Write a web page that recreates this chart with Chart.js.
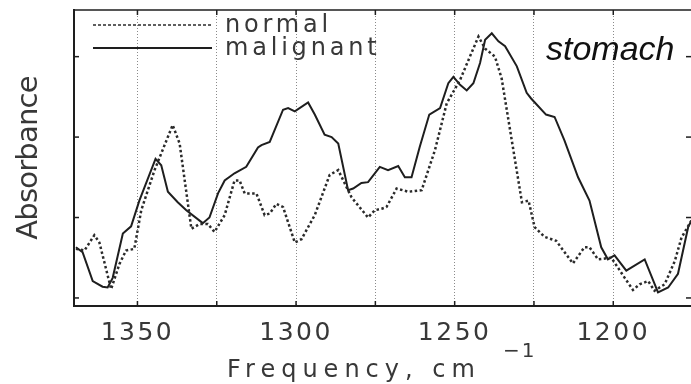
<!DOCTYPE html>
<html>
<head>
<meta charset="utf-8">
<script src="https://cdn.jsdelivr.net/npm/chart.js@4"></script>
<style>
  html, body { margin: 0; padding: 0; background: #fff; }
  canvas { display: block; }
</style>
</head>
<body>
<canvas id="chart" width="691" height="384"></canvas>
<script>
"use strict";

// absorbance spectra (arbitrary units), x in cm^-1
const normalFreq = [1369.4, 1366.7, 1363.6, 1362.0, 1358.3, 1355.7, 1353.6, 1351.0, 1348.8, 1344.6,
  1338.9, 1336.7, 1333.0, 1330.4, 1327.8, 1325.7, 1322.5, 1319.4, 1317.8, 1316.2,
  1312.5, 1309.9, 1308.3, 1306.2, 1304.1, 1300.4, 1298.3, 1294.1, 1289.4, 1286.7,
  1284.6, 1282.5, 1277.3, 1275.2, 1273.0, 1271.5, 1268.3, 1264.6, 1260.4, 1256.2,
  1252.5, 1248.3, 1245.2, 1242.5, 1240.4, 1237.3, 1235.2, 1232.0, 1228.8, 1226.7,
  1224.8, 1221.7, 1218.0, 1212.7, 1209.1, 1207.5, 1204.8, 1200.6, 1196.4, 1193.8,
  1191.7, 1189.0, 1187.0, 1183.8, 1180.6, 1178.5, 1175.4];
const normalAbs = [0.61, 0.59, 0.78, 0.69, 0.11, 0.42, 0.59, 0.61, 1.09, 1.59,
  2.15, 1.92, 0.86, 0.92, 0.92, 0.82, 1.03, 1.46, 1.46, 1.30,
  1.30, 1.03, 1.05, 1.17, 1.13, 0.69, 0.73, 1.03, 1.53, 1.59,
  1.42, 1.25, 1.00, 1.09, 1.11, 1.13, 1.36, 1.32, 1.34, 1.84,
  2.42, 2.71, 3.00, 3.25, 3.10, 3.00, 2.73, 1.96, 1.19, 1.21,
  0.88, 0.76, 0.71, 0.43, 0.63, 0.63, 0.48, 0.50, 0.25, 0.10,
  0.17, 0.21, 0.09, 0.17, 0.46, 0.75, 0.96];

const malignantFreq = [1369.4, 1367.3, 1364.1, 1361.0, 1359.4, 1357.8, 1354.6, 1352.0, 1349.4, 1344.3,
  1342.5, 1340.4, 1337.3, 1334.6, 1329.4, 1327.3, 1324.6, 1322.5, 1319.4, 1315.7,
  1312.0, 1310.9, 1308.3, 1304.1, 1302.5, 1300.4, 1296.2, 1294.1, 1291.0, 1288.8,
  1286.7, 1283.6, 1282.0, 1279.4, 1277.3, 1273.6, 1271.0, 1267.8, 1265.7, 1263.6,
  1261.0, 1258.0, 1254.6, 1252.0, 1250.4, 1248.3, 1246.2, 1244.1, 1242.0, 1240.4,
  1238.3, 1236.2, 1234.1, 1230.4, 1227.3, 1225.9, 1221.2, 1218.5, 1215.4, 1211.1,
  1207.5, 1203.8, 1201.7, 1199.6, 1195.9, 1190.1, 1185.9, 1182.7, 1179.6, 1176.4, 1175.4];
const malignantAbs = [0.63, 0.57, 0.21, 0.14, 0.13, 0.25, 0.80, 0.89, 1.21, 1.73,
  1.65, 1.32, 1.19, 1.09, 0.93, 1.00, 1.30, 1.46, 1.55, 1.63,
  1.87, 1.90, 1.94, 2.34, 2.36, 2.32, 2.43, 2.28, 2.03, 2.00,
  1.92, 1.34, 1.36, 1.43, 1.44, 1.63, 1.59, 1.64, 1.50, 1.50,
  1.88, 2.28, 2.36, 2.67, 2.75, 2.65, 2.58, 2.67, 2.92, 3.21,
  3.29, 3.19, 3.13, 2.88, 2.55, 2.48, 2.28, 2.25, 1.96, 1.50,
  1.21, 0.63, 0.48, 0.53, 0.34, 0.48, 0.07, 0.13, 0.30, 0.88, 0.96];

const xRange = [1175.5, 1370];
const yRange = [-0.1, 3.58];
const labelledTicks = [1350, 1300, 1250, 1200];

const seriesNames = ["normal", "malignant"];
const INK = "#1e1e1e";
const TEXT = "#383838";

function pts(xs, ys) { return xs.map((x, i) => ({ x, y: ys[i] })); }

function line(ctx, x1, y1, x2, y2) {
  ctx.beginPath(); ctx.moveTo(x1, y1); ctx.lineTo(x2, y2); ctx.stroke();
}

const decor = {
  id: "decor",
  beforeDraw(chart) { chart.ctx.letterSpacing = "2.5px"; },
  afterDraw(chart) {
    const { ctx, chartArea: a, scales: { x, y } } = chart;
    ctx.save();
    ctx.letterSpacing = "0px";
    ctx.strokeStyle = INK;

    // top frame line
    ctx.lineWidth = 1.5;
    line(ctx, a.left, a.top, a.right, a.top);

    // inward tick marks
    ctx.lineWidth = 1.5;
    x.ticks.forEach((t) => {
      const px = x.getPixelForValue(t.value);
      line(ctx, px, a.bottom, px, a.bottom - 5);
      line(ctx, px, a.top, px, a.top + 5);
    });
    y.ticks.forEach((t) => {
      const py = y.getPixelForValue(t.value);
      line(ctx, a.left, py, a.left + 5, py);
      line(ctx, a.right, py, a.right - 5, py);
    });

    // legend
    const ds = chart.data.datasets;
    const rows = [25, 48];
    ds.forEach((d, i) => {
      ctx.save();
      ctx.strokeStyle = d.borderColor;
      ctx.lineWidth = i === 0 ? 1.5 : 2;
      ctx.setLineDash(i === 0 ? [3, 2] : []);
      line(ctx, 93, rows[i], 212, rows[i]);
      ctx.restore();
      ctx.fillStyle = TEXT;
      ctx.font = "24px 'DejaVu Sans'";
      ctx.letterSpacing = "3.8px";
      ctx.textBaseline = "alphabetic";
      ctx.fillText(d.label, 225, rows[i] + 7);
    });

    // y title
    ctx.save();
    ctx.translate(37, 158);
    ctx.rotate(-Math.PI / 2);
    ctx.font = "29px 'DejaVu Sans'";
    ctx.letterSpacing = "-0.8px";
    ctx.textAlign = "center";
    ctx.fillStyle = TEXT;
    ctx.fillText("Absorbance", 0, 0);
    ctx.restore();

    // x title with superscript
    ctx.fillStyle = TEXT;
    ctx.textAlign = "left";
    ctx.font = "24px 'DejaVu Sans'";
    ctx.letterSpacing = "6px";
    ctx.fillText("Frequency, cm", 227, 377);
    ctx.font = "20px 'DejaVu Sans'";
    ctx.letterSpacing = "2px";
    ctx.fillText("\u22121", 503, 357);

    // panel label
    ctx.font = "italic 34px 'Liberation Sans'";
    ctx.letterSpacing = "0px";
    ctx.fillStyle = "#111";
    ctx.fillText("stomach", 546, 60);

    ctx.restore();
  }
};

new Chart(document.getElementById("chart"), {
  type: "line",
  data: {
    datasets: [
      {
        label: seriesNames[0], data: pts(normalFreq, normalAbs),
        borderColor: "#2a2a2a", borderWidth: 2.5, borderDash: [2.5, 2.5],
        pointRadius: 0, tension: 0, fill: false,
      },
      {
        label: seriesNames[1], data: pts(malignantFreq, malignantAbs),
        borderColor: INK, borderWidth: 2, borderDash: [],
        pointRadius: 0, tension: 0, fill: false,
      },
    ],
  },
  options: {
    responsive: false,
    animation: false,
    layout: { padding: { left: 74, top: 10, right: 0, bottom: 0 } },
    plugins: { legend: { display: false }, tooltip: { enabled: false } },
    scales: {
      x: {
        type: "linear", reverse: true, min: xRange[0], max: xRange[1],
        afterBuildTicks: (s) => { s.ticks = s.ticks.filter((t) => t.value % 25 === 0); },
        afterFit: (s) => { s.height = 78; },
        ticks: {
          stepSize: 25, includeBounds: false, autoSkip: false, maxRotation: 0, padding: 12, color: TEXT,
          font: { family: "DejaVu Sans", size: 25 },
          callback: (v) => (labelledTicks.includes(v) ? String(v) : ""),
        },
        grid: { color: "#8a8a8a", lineWidth: 1, drawTicks: false },
        border: { display: true, color: INK, width: 2, dash: [1, 2] },
      },
      y: {
        min: yRange[0], max: yRange[1],
        afterBuildTicks: (s) => { s.ticks = s.ticks.filter((t) => Number.isInteger(t.value)); },
        ticks: { display: false, stepSize: 1, includeBounds: false },
        grid: { display: false, drawTicks: false },
        border: { display: true, color: INK, width: 2 },
      },
    },
  },
  plugins: [decor],
});
</script>
</body>
</html>
